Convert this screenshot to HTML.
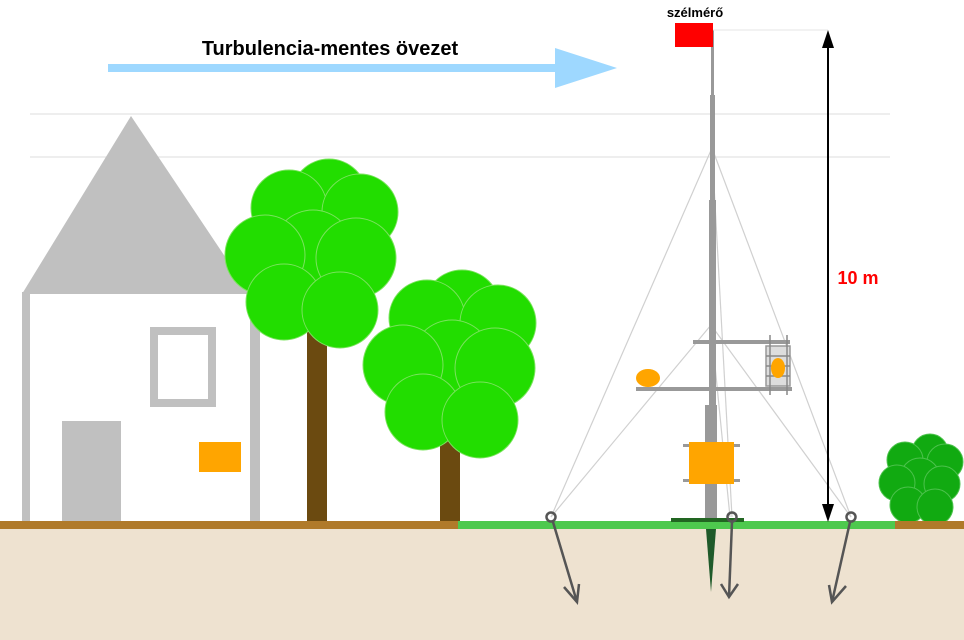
<!DOCTYPE html>
<html><head><meta charset="utf-8"><style>html,body{margin:0;padding:0;background:#fff}svg{display:block}</style></head><body>
<svg width="964" height="640" viewBox="0 0 964 640" xmlns="http://www.w3.org/2000/svg">
<rect x="0" y="527" width="964" height="113" fill="#eee2d0"/>
<line x1="30" y1="114" x2="890" y2="114" stroke="#ddd" stroke-width="1"/>
<line x1="30" y1="157" x2="890" y2="157" stroke="#ddd" stroke-width="1"/>
<!-- house -->
<polygon points="22,294 131,116 250,294" fill="#c0c0c0"/>
<rect x="22" y="292" width="8" height="230" fill="#c0c0c0"/>
<rect x="250" y="292" width="10" height="230" fill="#c0c0c0"/>
<rect x="154" y="331" width="58" height="72" fill="none" stroke="#c0c0c0" stroke-width="8"/>
<rect x="62" y="421" width="59" height="101" fill="#c0c0c0"/>
<rect x="199" y="442" width="42" height="30" fill="#ffa500"/>
<!-- trees -->
<rect x="307" y="320" width="20" height="202" fill="#6b4a10"/>
<rect x="440" y="430" width="20" height="92" fill="#6b4a10"/>
<g fill="#22dd00" stroke="#7be35e" stroke-width="1">
<circle cx="329" cy="197" r="38"/><circle cx="289" cy="208" r="38"/><circle cx="360" cy="212" r="38"/>
<circle cx="313" cy="250" r="40"/><circle cx="265" cy="255" r="40"/><circle cx="356" cy="258" r="40"/>
<circle cx="284" cy="302" r="38"/><circle cx="340" cy="310" r="38"/>
<circle cx="462" cy="308" r="38"/><circle cx="427" cy="318" r="38"/><circle cx="498" cy="323" r="38"/>
<circle cx="452" cy="360" r="40"/><circle cx="403" cy="365" r="40"/><circle cx="495" cy="368" r="40"/>
<circle cx="423" cy="412" r="38"/><circle cx="480" cy="420" r="38"/>
</g>
<g fill="#11aa11" stroke="#4cc24c" stroke-width="1">
<circle cx="930" cy="452" r="18"/><circle cx="905" cy="460" r="18"/><circle cx="945" cy="462" r="18"/>
<circle cx="920" cy="478" r="20"/><circle cx="897" cy="483" r="18"/><circle cx="942" cy="484" r="18"/>
<circle cx="908" cy="505" r="18"/><circle cx="935" cy="507" r="18"/>
</g>
<!-- ground -->
<rect x="0" y="521" width="460" height="8" fill="#b07a2a"/>
<rect x="458" y="521" width="437" height="8" fill="#4ec94e"/>
<rect x="895" y="521" width="69" height="8" fill="#b07a2a"/>
<!-- blue arrow -->
<rect x="108" y="64" width="450" height="8" fill="#9ed8ff"/>
<polygon points="555,48 617,68 555,88" fill="#9ed8ff"/>
<text x="330" y="55" font-family="Liberation Sans, sans-serif" font-weight="bold" font-size="20" text-anchor="middle">Turbulencia-mentes övezet</text>
<!-- guy wires -->
<g stroke="#d0d0d0" stroke-width="1.2" fill="none">
<line x1="712" y1="148" x2="551" y2="517"/><line x1="712" y1="148" x2="851" y2="517"/><line x1="712" y1="148" x2="732" y2="517"/>
<line x1="711" y1="325" x2="551" y2="517"/><line x1="711" y1="325" x2="851" y2="517"/><line x1="711" y1="325" x2="730" y2="517"/>
</g>
<!-- mast -->
<rect x="711" y="30" width="3" height="70" fill="#999"/>
<rect x="710" y="95" width="5" height="110" fill="#999"/>
<rect x="709" y="200" width="7" height="205" fill="#999"/>
<rect x="705" y="405" width="12" height="115" fill="#999"/>
<rect x="693" y="340" width="97" height="4" fill="#999"/>
<rect x="636" y="387" width="156" height="4" fill="#999"/>
<ellipse cx="648" cy="378" rx="12" ry="9" fill="#ffa500"/>
<rect x="766" y="346" width="24" height="40" fill="#ddd" stroke="#999" stroke-width="1.5"/>
<g stroke="#888" stroke-width="1.5"><line x1="770" y1="335" x2="770" y2="395"/><line x1="787" y1="335" x2="787" y2="395"/><line x1="766" y1="356" x2="790" y2="356"/><line x1="766" y1="366" x2="790" y2="366"/><line x1="766" y1="376" x2="790" y2="376"/></g>
<ellipse cx="778" cy="368" rx="7" ry="10" fill="#ffa500"/>
<rect x="683" y="444" width="57" height="3" fill="#999"/><rect x="683" y="479" width="57" height="3" fill="#999"/>
<rect x="689" y="442" width="45" height="42" fill="#ffa500"/>
<rect x="671" y="518" width="73" height="4" fill="#226622"/>
<polygon points="706,529 716,529 711,592" fill="#1f5a2a"/>
<!-- anchors -->
<g stroke="#555" stroke-width="2.5" fill="none">
<circle cx="551" cy="517" r="4.5"/><circle cx="732" cy="517" r="4.5"/><circle cx="851" cy="517" r="4.5"/>
<line x1="553" y1="522" x2="577" y2="602"/><polyline points="564,587 577,602 579,584"/>
<line x1="732" y1="522" x2="729" y2="597"/><polyline points="721,584 729,597 738,584"/>
<line x1="850" y1="522" x2="832" y2="602"/><polyline points="829,585 832,602 846,586"/>
</g>
<!-- top -->
<rect x="675" y="23" width="38" height="24" fill="#ff0000"/>
<text x="695" y="17" font-family="Liberation Sans, sans-serif" font-weight="bold" font-size="13" text-anchor="middle">szélmérő</text>
<line x1="713" y1="30" x2="828" y2="30" stroke="#e6e6e6" stroke-width="1"/>
<line x1="828" y1="45" x2="828" y2="508" stroke="#000" stroke-width="2"/>
<polygon points="822,48 828,30 834,48" fill="#000"/>
<polygon points="822,504 828,522 834,504" fill="#000"/>
<text x="858" y="284" font-family="Liberation Sans, sans-serif" font-weight="bold" font-size="18" fill="#ff0000" text-anchor="middle">10 m</text>
</svg>
</body></html>
